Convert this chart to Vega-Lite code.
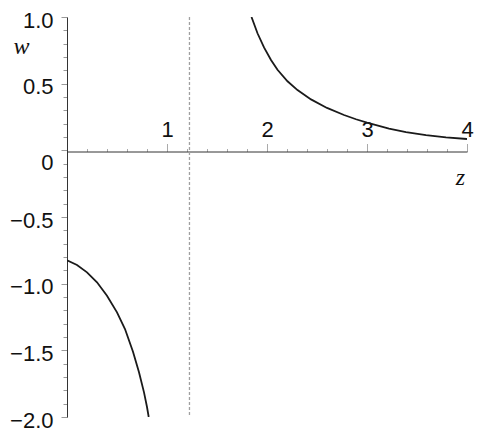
{
  "$schema": "https://vega.github.io/schema/vega-lite/v6.json",
  "width": 400,
  "height": 400,
  "autosize": "none",
  "padding": {"left": 67, "top": 17, "right": 18, "bottom": 22},
  "background": "white",
  "config": {"view": {"stroke": null}},
  "encoding": {
    "x": {
      "field": "z",
      "type": "quantitative",
      "scale": {"domain": [0, 4], "nice": false, "zero": false},
      "axis": {
        "orient": "top",
        "offset": -134.5,
        "grid": false,
        "values": [0.2, 0.4, 0.6, 0.8, 1, 1.2, 1.4, 1.6, 1.8, 2, 2.2, 2.4, 2.6, 2.8, 3, 3.2, 3.4, 3.6, 3.8, 4],
        "labelExpr": "abs(datum.value - round(datum.value)) < 0.001 ? format(datum.value, 'd') : ''",
        "labelFont": "Liberation Sans",
        "labelFontSize": 22,
        "labelColor": "#111111",
        "labelPadding": 2,
        "labelFlush": false,
        "labelOverlap": false,
        "labelBound": false,
        "domainColor": "#333333",
        "domainWidth": 1,
        "tickColor": "#aaaaaa",
        "tickWidth": 1,
        "tickSize": {"condition": {"test": "abs(datum.value - round(datum.value)) < 0.001", "value": 8}, "value": 3},
        "title": "z",
        "titleFont": "Liberation Serif",
        "titleFontStyle": "italic",
        "titleFontWeight": "normal",
        "titleFontSize": 24,
        "titleColor": "#111111",
        "titleAngle": 0,
        "titleAlign": "center",
        "titleBaseline": "alphabetic",
        "titleX": 393,
        "titleY": 33
      }
    }
  },
  "layer": [
    {
      "data": {"values": [{"z": 1.2247}]},
      "mark": {"type": "rule", "color": "#a0a0a0", "strokeWidth": 1.3, "strokeDash": [3, 2]}
    },
    {
      "data": {
        "values": [
          {"branch": "a", "z": 0.0, "w": -0.825},
          {"branch": "a", "z": 0.1, "w": -0.86},
          {"branch": "a", "z": 0.2, "w": -0.915},
          {"branch": "a", "z": 0.3, "w": -0.99},
          {"branch": "a", "z": 0.4, "w": -1.09},
          {"branch": "a", "z": 0.5, "w": -1.215},
          {"branch": "a", "z": 0.58, "w": -1.34},
          {"branch": "a", "z": 0.66, "w": -1.51},
          {"branch": "a", "z": 0.72, "w": -1.665},
          {"branch": "a", "z": 0.77, "w": -1.815},
          {"branch": "a", "z": 0.8, "w": -1.925},
          {"branch": "a", "z": 0.817, "w": -2.0},
          {"branch": "b", "z": 1.845, "w": 1.0},
          {"branch": "b", "z": 1.905, "w": 0.878},
          {"branch": "b", "z": 1.97, "w": 0.772},
          {"branch": "b", "z": 2.04, "w": 0.678},
          {"branch": "b", "z": 2.105, "w": 0.604},
          {"branch": "b", "z": 2.205, "w": 0.518},
          {"branch": "b", "z": 2.305, "w": 0.452},
          {"branch": "b", "z": 2.44, "w": 0.382},
          {"branch": "b", "z": 2.6, "w": 0.318},
          {"branch": "b", "z": 2.77, "w": 0.265},
          {"branch": "b", "z": 2.89, "w": 0.233},
          {"branch": "b", "z": 3.0, "w": 0.207},
          {"branch": "b", "z": 3.22, "w": 0.163},
          {"branch": "b", "z": 3.39, "w": 0.137},
          {"branch": "b", "z": 3.59, "w": 0.114},
          {"branch": "b", "z": 3.79, "w": 0.097},
          {"branch": "b", "z": 4.0, "w": 0.085}
        ]
      },
      "mark": {"type": "line", "color": "#1a1a1a", "strokeWidth": 1.8, "clip": true},
      "encoding": {
        "detail": {"field": "branch", "type": "nominal"},
        "y": {
          "field": "w",
          "type": "quantitative",
          "scale": {"domain": [-2, 1], "nice": false, "zero": false},
          "axis": {
            "orient": "left",
            "grid": false,
            "values": [-2, -1.9, -1.8, -1.7, -1.6, -1.5, -1.4, -1.3, -1.2, -1.1, -1, -0.9, -0.8, -0.7, -0.6, -0.5, -0.4, -0.3, -0.2, -0.1, 0, 0.1, 0.2, 0.3, 0.4, 0.5, 0.6, 0.7, 0.8, 0.9, 1],
            "labelExpr": "abs(datum.value * 2 - round(datum.value * 2)) < 0.001 ? (abs(datum.value) < 0.001 ? '0' : format(datum.value, '.1f')) : ''",
            "labelFont": "Liberation Sans",
            "labelFontSize": 22,
            "labelColor": "#111111",
            "labelPadding": 8,
            "labelFlush": false,
            "labelOverlap": false,
            "labelBound": false,
            "labelOffset": {"condition": {"test": "abs(datum.value) < 0.001", "value": 12}, "value": 3},
            "domainColor": "#333333",
            "domainWidth": 1,
            "tickColor": "#999999",
            "tickWidth": 1,
            "tickSize": {"condition": {"test": "abs(datum.value * 2 - round(datum.value * 2)) < 0.001", "value": 6}, "value": 4},
            "title": "w",
            "titleFont": "Liberation Serif",
            "titleFontStyle": "italic",
            "titleFontWeight": "normal",
            "titleFontSize": 24,
            "titleColor": "#111111",
            "titleAngle": 0,
            "titleAlign": "center",
            "titleBaseline": "alphabetic",
            "titleX": -46,
            "titleY": 36
          }
        }
      }
    }
  ]
}
